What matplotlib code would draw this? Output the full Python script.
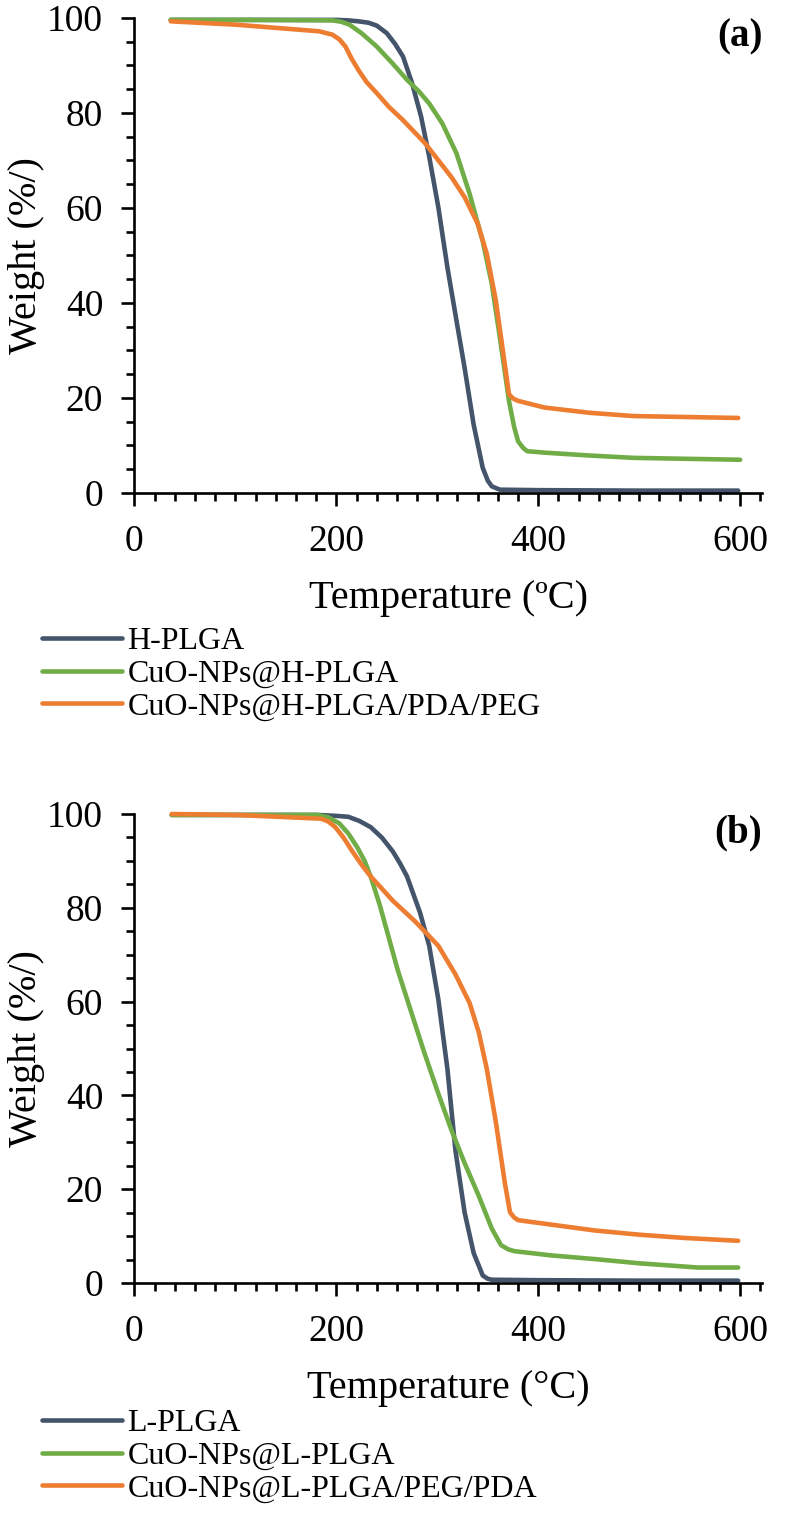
import matplotlib
matplotlib.use("Agg")
import matplotlib.pyplot as plt
from matplotlib.ticker import MultipleLocator

plt.rcParams['font.family'] = ['Liberation Serif', 'DejaVu Serif']

# colours (excel-ish)
c_blue = '#44546A'
c_green = '#70AD47'
c_orange = '#ED7D31'

# ---- panel (a) : H-PLGA samples
t_h = [36, 120, 200, 212, 222, 232, 240, 250, 258, 266, 275, 284, 292, 301, 310, 319, 327, 336, 345, 350, 354, 362, 400, 500, 598]
w_h = [99.6, 99.6, 99.6, 99.5, 99.3, 99.0, 98.4, 96.8, 94.6, 91.9, 86.3, 79.2, 70.8, 60.2, 47.5, 36.3, 26.4, 14.4, 5.3, 2.6, 1.4, 0.7, 0.6, 0.5, 0.5]

t_cuo_h = [36, 120, 196, 205, 213, 225, 240, 255, 270, 282, 292, 305, 319, 332, 345, 354, 362, 371, 376, 380, 385, 389, 406, 450, 494, 600]
w_cuo_h = [99.6, 99.6, 99.5, 99.2, 98.6, 96.8, 94.0, 90.6, 87.0, 84.5, 82.0, 77.8, 71.5, 63.0, 53.0, 44.0, 32.7, 19.4, 14.0, 10.9, 9.5, 8.8, 8.5, 7.9, 7.4, 7.0]

t_peg_h = [36, 100, 183, 196, 203, 209, 215, 222, 230, 240, 252, 266, 288, 314, 327, 340, 349, 358, 365, 371, 375, 380, 406, 450, 494, 598]
w_peg_h = [99.3, 98.6, 97.2, 96.5, 95.5, 94.0, 91.5, 89.0, 86.5, 84.2, 81.3, 78.5, 73.6, 66.5, 62.3, 56.7, 50.4, 40.5, 29.9, 20.8, 19.9, 19.4, 18.0, 16.9, 16.2, 15.8]

# ---- panel (b) : L-PLGA samples
t_l = [37, 120, 181, 200, 212, 223, 234, 245, 256, 263, 270, 283, 292, 301, 310, 318, 327, 336, 345, 350, 354, 400, 500, 598]
w_l = [99.8, 99.8, 99.8, 99.6, 99.4, 98.5, 97.2, 95.0, 92.0, 89.5, 86.7, 78.9, 71.9, 60.5, 45.7, 28.2, 15.1, 6.4, 1.6, 0.9, 0.7, 0.6, 0.5, 0.5]

t_cuo_l = [37, 120, 181, 192, 203, 212, 221, 228, 234, 243, 252, 261, 274, 287, 301, 314, 327, 341, 354, 363, 370, 376, 412, 456, 500, 558, 598]
w_cuo_l = [99.8, 99.8, 99.8, 99.3, 98.0, 95.8, 92.8, 90.0, 86.7, 80.6, 73.6, 66.6, 57.9, 49.2, 40.4, 32.6, 25.6, 18.6, 11.6, 8.1, 7.2, 6.8, 5.9, 5.1, 4.2, 3.3, 3.3]

t_peg_l = [37, 101, 185, 192, 199, 207, 216, 225, 234, 256, 278, 301, 318, 332, 341, 349, 358, 367, 372, 376, 380, 411, 456, 500, 545, 598]
w_peg_l = [100.0, 99.8, 99.0, 98.4, 97.2, 95.0, 92.0, 89.2, 86.7, 81.5, 77.1, 71.9, 65.8, 59.7, 53.5, 45.7, 34.3, 21.2, 15.1, 14.0, 13.4, 12.5, 11.2, 10.3, 9.6, 9.0]

labels_a = ['H-PLGA', 'CuO-NPs@H-PLGA', 'CuO-NPs@H-PLGA/PDA/PEG']
labels_b = ['L-PLGA', 'CuO-NPs@L-PLGA', 'CuO-NPs@L-PLGA/PEG/PDA']

H = 1515.0
fig = plt.figure(figsize=(8, 15.15), dpi=100)
ax_a = fig.add_axes([0.168, 1 - 493 / H, 0.785, 475 / H])
ax_b = fig.add_axes([0.168, 1 - 1283 / H, 0.785, 469 / H])


def style(ax, xlab, tag):
    ax.set_xlim(0, 622)
    ax.set_ylim(0, 100)
    for s in ['top', 'right']:
        ax.spines[s].set_visible(False)
    for s in ['left', 'bottom']:
        ax.spines[s].set_linewidth(1.9)
    ax.xaxis.set_major_locator(MultipleLocator(200))
    ax.xaxis.set_minor_locator(MultipleLocator(20))
    ax.yaxis.set_major_locator(MultipleLocator(20))
    ax.yaxis.set_minor_locator(MultipleLocator(5))
    ax.tick_params(which='major', length=9.5, width=1.9, labelsize=27, pad=13)
    ax.tick_params(which='minor', length=6, width=1.9)
    ax.set_xlabel(xlab, fontsize=29, labelpad=15)
    ax.set_ylabel('Weight (%/)', fontsize=29)
    ax.yaxis.set_label_coords(-0.142, 0.5)
    ax.text(1.0, 1.0, tag, transform=ax.transAxes, ha='right', va='top',
            fontsize=28, fontweight='bold')


kw = dict(lw=3.3, clip_on=False, solid_joinstyle='round', solid_capstyle='round')

lines_a = []
lines_a += ax_a.plot(t_h, w_h, color=c_blue, **kw)
lines_a += ax_a.plot(t_cuo_h, w_cuo_h, color=c_green, **kw)
lines_a += ax_a.plot(t_peg_h, w_peg_h, color=c_orange, **kw)
style(ax_a, 'Temperature (ºC)', '(a)')

lines_b = []
lines_b += ax_b.plot(t_l, w_l, color=c_blue, **kw)
lines_b += ax_b.plot(t_cuo_l, w_cuo_l, color=c_green, **kw)
lines_b += ax_b.plot(t_peg_l, w_peg_l, color=c_orange, **kw)
style(ax_b, 'Temperature (°C)', '(b)')

leg_kw = dict(loc='upper left', frameon=False, fontsize=23, handlelength=2.5,
              handletextpad=0.17, labelspacing=0.1, borderpad=0, borderaxespad=0)
fig.legend(lines_a, labels_a, bbox_to_anchor=(42 / 800, 1 - 627 / H), **leg_kw)
fig.legend(lines_b, labels_b, bbox_to_anchor=(42 / 800, 1 - 1409 / H), **leg_kw)

fig.savefig('out.png', dpi=100)
